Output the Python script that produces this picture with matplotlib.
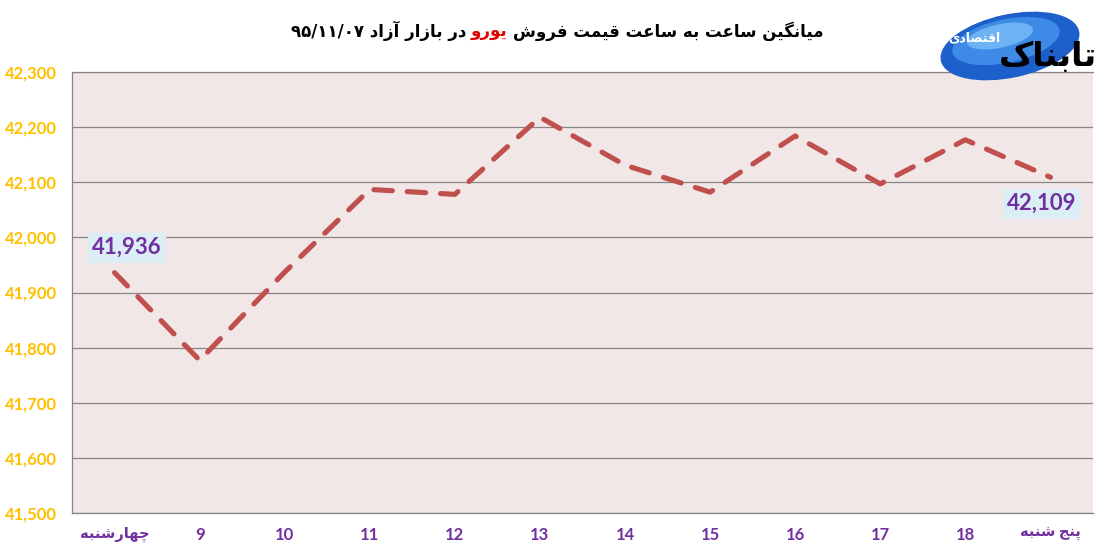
import matplotlib
matplotlib.use('Agg')
import matplotlib.pyplot as plt
from matplotlib.patches import Ellipse

# chart data
categories = ['چهارشنبه', '9', '10', '11', '12', '13', '14', '15', '16', '17', '18', 'پنج شنبه']
prices = [41936, 41777, 41937, 42087, 42078, 42218, 42131, 42082, 42184, 42097, 42177, 42109]
y_ticks = [41500, 41600, 41700, 41800, 41900, 42000, 42100, 42200, 42300]
labelled = [0, 11]  # points that carry a value label

# presentation forms: isolated, final, initial, medial
FORMS = {
    'ا': ('\uFE8D', '\uFE8E', None, None),
    'آ': ('\uFE81', '\uFE82', None, None),
    'ب': ('\uFE8F', '\uFE90', '\uFE91', '\uFE92'),
    'پ': ('\uFB56', '\uFB57', '\uFB58', '\uFB59'),
    'ت': ('\uFE95', '\uFE96', '\uFE97', '\uFE98'),
    'ج': ('\uFE9D', '\uFE9E', '\uFE9F', '\uFEA0'),
    'چ': ('\uFB7A', '\uFB7B', '\uFB7C', '\uFB7D'),
    'د': ('\uFEA9', '\uFEAA', None, None),
    'ر': ('\uFEAD', '\uFEAE', None, None),
    'ز': ('\uFEAF', '\uFEB0', None, None),
    'س': ('\uFEB1', '\uFEB2', '\uFEB3', '\uFEB4'),
    'ش': ('\uFEB5', '\uFEB6', '\uFEB7', '\uFEB8'),
    'ص': ('\uFEB9', '\uFEBA', '\uFEBB', '\uFEBC'),
    'ع': ('\uFEC9', '\uFECA', '\uFECB', '\uFECC'),
    'ف': ('\uFED1', '\uFED2', '\uFED3', '\uFED4'),
    'ق': ('\uFED5', '\uFED6', '\uFED7', '\uFED8'),
    'ک': ('\uFB8E', '\uFB8F', '\uFB90', '\uFB91'),
    'گ': ('\uFB92', '\uFB93', '\uFB94', '\uFB95'),
    'م': ('\uFEE1', '\uFEE2', '\uFEE3', '\uFEE4'),
    'ن': ('\uFEE5', '\uFEE6', '\uFEE7', '\uFEE8'),
    'ه': ('\uFEE9', '\uFEEA', '\uFEEB', '\uFEEC'),
    'و': ('\uFEED', '\uFEEE', None, None),
    'ی': ('\uFBFC', '\uFBFD', '\uFBFE', '\uFBFF'),
}


def fa(text):
    # join the letters and put them in visual (left to right) order
    out = []
    for i, c in enumerate(text):
        if c not in FORMS:
            out.append(c)
            continue
        prev = text[i - 1] if i > 0 else ''
        nxt = text[i + 1] if i + 1 < len(text) else ''
        join_prev = prev in FORMS and FORMS[prev][2] is not None
        join_next = nxt in FORMS and FORMS[c][2] is not None
        f = FORMS[c]
        if join_prev and join_next:
            out.append(f[3])
        elif join_prev:
            out.append(f[1])
        elif join_next:
            out.append(f[2])
        else:
            out.append(f[0])
    return ''.join(reversed(out))


FONT = ['Lato', 'DejaVu Sans']
plt.rcParams['font.family'] = FONT

purple = '#7030A0'
gold = '#FFC000'
grid_gray = '#868686'

fig = plt.figure(figsize=(11.03, 5.55), dpi=100)
ax = fig.add_axes([72 / 1103, 42 / 555, 1021 / 1103, 441 / 555])
ax.set_facecolor('#F2E7E7')

x = list(range(len(categories)))
line, = ax.plot(x, prices, color='#C0504D', linewidth=3.7,
                solid_capstyle='round', dash_capstyle='round', dash_joinstyle='round')
line.set_dashes((3.6, 2.9))

ax.set_xlim(-0.5, len(categories) - 0.5)
ax.set_ylim(y_ticks[0], y_ticks[-1])
ax.set_yticks(y_ticks)
ax.set_yticklabels(['{:,}'.format(v) for v in y_ticks], color=gold,
                   fontweight='bold', fontsize=12)
ax.set_xticks(x)
ax.set_xticklabels([c if c.isdigit() else fa(c) for c in categories],
                   color=purple, fontweight='bold', fontsize=12)
for lab, c in zip(ax.get_xticklabels(), categories):
    if not c.isdigit():
        lab.set_fontsize(10.5)
ax.tick_params(axis='both', length=0)
ax.tick_params(axis='y', pad=11)
ax.tick_params(axis='x', pad=10)
ax.grid(axis='y', color=grid_gray, linewidth=0.9)
ax.set_axisbelow(True)
for side in ['left', 'bottom', 'top']:
    ax.spines[side].set_color(grid_gray)
    ax.spines[side].set_linewidth(0.9)
ax.spines['right'].set_visible(False)

# value labels on first and last points
offsets = {0: (9, 18), 11: (-6, -19)}
for i in labelled:
    ax.annotate('{:,}'.format(prices[i]), xy=(x[i], prices[i]), xytext=offsets[i],
                textcoords='offset points', ha='center', va='center',
                color=purple, fontweight='bold', fontsize=16,
                bbox=dict(boxstyle='square,pad=0.2', facecolor='#DCEEF5', edgecolor='none'))

# title in three pieces, the currency name in red
title_y = 1 - 37 / 555
pieces = [
    ('۹۵/۱۱/۰۷ ' + fa('در بازار آزاد'), 'black'),
    (fa('یورو'), '#E00000'),
    (fa('میانگین ساعت به ساعت قیمت فروش'), 'black'),
]
renderer = fig.canvas.get_renderer()
texts = []
for s, col in pieces:
    t = fig.text(0, title_y, s, color=col, fontsize=12, fontweight='bold',
                 family=['DejaVu Sans'], ha='left', va='baseline')
    texts.append(t)
gap = 5
widths = [t.get_window_extent(renderer).width for t in texts]
total = sum(widths) + gap * (len(texts) - 1)
xpos = 557 - total / 2
for t, w in zip(texts, widths):
    t.set_x(xpos / 1103)
    xpos += w + gap

# logo at the top right
logo_ax = fig.add_axes([930 / 1103, 1 - 98 / 555, 173 / 1103, 98 / 555])
logo_ax.set_xlim(0, 173)
logo_ax.set_ylim(0, 98)
logo_ax.axis('off')
logo_ax.add_patch(Ellipse((80, 52), 140, 62, angle=12, color='#1D5FCB'))
logo_ax.add_patch(Ellipse((76, 57), 108, 42, angle=12, color='#3D8BE6'))
logo_ax.add_patch(Ellipse((70, 62), 66, 22, angle=12, color='#6DB2F2'))
logo_ax.text(118, 42, fa('تابناک'), fontsize=24, fontweight='bold', color='black',
             family=['DejaVu Sans'], ha='center', va='center')
logo_ax.text(44, 60, fa('اقتصادی'), fontsize=9, fontweight='bold', color='white',
             family=['DejaVu Sans'], ha='center', va='center')

fig.savefig('out.png', dpi=100, facecolor='white')
